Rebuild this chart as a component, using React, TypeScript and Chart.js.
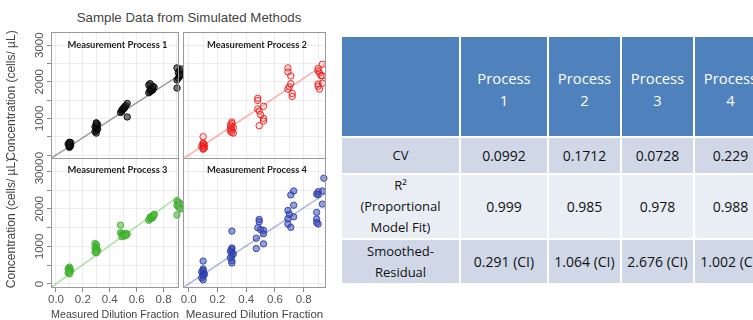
import React, { useEffect, useRef } from 'react';
import { Chart, registerables } from 'chart.js';

Chart.register(...registerables);
const FONT = '"Liberation Sans", Arial, sans-serif';
Chart.defaults.font.family = FONT;

// ---------- text ----------
const chartTitle = 'Sample Data from Simulated Methods';
const panelTitles = ['Measurement Process 1', 'Measurement Process 2', 'Measurement Process 3', 'Measurement Process 4'];
const yAxisTitle = 'Concentration (cells/ µL)';
const xAxisTitle = 'Measured Dilution Fraction';

// ---------- scatter data (dilution fraction, concentration) ----------
const p1X = [0.10, 0.10, 0.11, 0.10, 0.09, 0.10, 0.11, 0.10, 0.10, 0.10,
  0.30, 0.29, 0.30, 0.31, 0.30, 0.29, 0.30, 0.31, 0.30, 0.30,
  0.48, 0.49, 0.49, 0.50, 0.50, 0.51, 0.51, 0.52, 0.53, 0.53,
  0.69, 0.70, 0.71, 0.72, 0.70, 0.71, 0.73, 0.72, 0.69, 0.70,
  0.90, 0.91, 0.92, 0.93, 0.91, 0.92, 0.93, 0.90, 0.90, 0.92];
const p1Y = [210, 240, 260, 280, 300, 320, 340, 230, 270, 350,
  600, 640, 680, 710, 740, 770, 800, 830, 860, 880,
  1160, 1190, 1230, 1250, 1270, 1290, 1320, 1350, 1410, 1040,
  1700, 1730, 1760, 1780, 1800, 1820, 1850, 1880, 1910, 1950,
  2050, 2100, 2150, 2200, 2250, 2300, 2350, 2380, 1830, 2180];

const p2X = [0.10, 0.10, 0.10, 0.11, 0.10, 0.09, 0.10, 0.11, 0.10, 0.10,
  0.30, 0.30, 0.29, 0.30, 0.31, 0.29, 0.30, 0.29, 0.30, 0.31,
  0.48, 0.48, 0.52, 0.48, 0.49, 0.50, 0.52, 0.52, 0.49,
  0.69, 0.69, 0.71, 0.71, 0.70, 0.69, 0.72, 0.72,
  0.93, 0.90, 0.90, 0.91, 0.92, 0.93, 0.90, 0.90, 0.91, 0.93];
const p2Y = [500, 330, 300, 280, 260, 240, 220, 200, 180, 160,
  900, 860, 820, 780, 750, 720, 690, 650, 620, 600,
  1550, 1490, 1330, 1260, 1200, 1100, 1000, 930, 800,
  2380, 2270, 2160, 1950, 1860, 1800, 1680, 1600,
  2480, 2360, 2300, 2240, 2170, 2160, 1940, 1880, 1800, 1960];

const p3X = [0.10, 0.10, 0.09, 0.10, 0.11, 0.10, 0.10, 0.09, 0.10,
  0.29, 0.30, 0.30, 0.29, 0.30, 0.30, 0.31, 0.30, 0.29, 0.30,
  0.48, 0.48, 0.49, 0.50, 0.50, 0.51, 0.52, 0.53, 0.49, 0.52,
  0.69, 0.70, 0.71, 0.72, 0.70, 0.71, 0.72, 0.73, 0.73,
  0.90, 0.91, 0.92, 0.93, 0.90, 0.91, 0.92, 0.93, 0.90];
const p3Y = [450, 420, 400, 380, 360, 340, 320, 300, 270,
  1080, 1050, 1000, 970, 940, 910, 890, 870, 850, 830,
  1570, 1370, 1340, 1320, 1300, 1280, 1350, 1330, 1260, 1300,
  1700, 1730, 1750, 1770, 1780, 1800, 1820, 1840, 1860,
  2220, 2180, 2150, 2120, 2100, 2060, 2020, 2000, 1840];

const p4X = [0.10, 0.10, 0.10, 0.09, 0.10, 0.11, 0.10, 0.10, 0.09, 0.10,
  0.30, 0.30, 0.30, 0.29, 0.30, 0.31, 0.30, 0.29, 0.30, 0.30,
  0.49, 0.49, 0.48, 0.50, 0.52, 0.52, 0.47, 0.52, 0.47,
  0.73, 0.71, 0.73, 0.69, 0.70, 0.73, 0.69, 0.69, 0.71,
  0.94, 0.93, 0.90, 0.89, 0.90, 0.93, 0.89, 0.89, 0.89, 0.90];
const p4Y = [610, 400, 360, 320, 290, 260, 230, 200, 160, 110,
  1410, 960, 920, 880, 840, 800, 760, 700, 620, 560,
  1720, 1660, 1500, 1450, 1430, 1340, 1220, 1070, 945,
  2480, 2375, 2100, 1960, 1860, 1790, 1740, 1600, 1510,
  2820, 2480, 2460, 2400, 2380, 2130, 1910, 1730, 1640, 1600];

// proportional model fit (concentration per unit dilution fraction)
const fitSlopes = [2380, 2620, 2560, 2540];

// axis ticks: y tick marks every 500 (labels on the thousands), x ticks every 0.1 (labels every 0.2)
const yTickValues = [0, 500, 1000, 1500, 2000, 2500, 3000];
const yLabelValues = [0, 1000, 2000, 3000];
const xTickValues = [0, 0.1, 0.2, 0.3, 0.4, 0.5, 0.6, 0.7, 0.8, 0.9];
const xLabelValues = [0, 0.2, 0.4, 0.6, 0.8];

// ---------- table ----------
const tableHeaders = ['Process\n1', 'Process\n2', 'Process\n3', 'Process\n4'];
const rowLabels = ['CV', 'R²\n(Proportional\nModel Fit)', 'Smoothed-\nResidual'];
const cvValues = ['0.0992', '0.1712', '0.0728', '0.229'];
const r2Values = ['0.999', '0.985', '0.978', '0.988'];
const residualValues = ['0.291 (CI)', '1.064 (CI)', '2.676 (CI)', '1.002 (CI)'];

// ---------- styles ----------
const processXs = [p1X, p2X, p3X, p4X];
const processYs = [p1Y, p2Y, p3Y, p4Y];
const pointFills = ['rgba(30,30,30,0.6)', 'rgba(255,60,60,0.12)', 'rgba(80,190,60,0.6)', 'rgba(60,80,185,0.55)'];
const pointStrokes = ['rgba(0,0,0,0.85)', 'rgba(235,25,25,0.9)', 'rgba(60,170,45,0.85)', 'rgba(40,55,165,0.85)'];
const lineColors = ['rgba(0,0,0,0.38)', 'rgba(250,90,90,0.5)', 'rgba(110,200,90,0.55)', 'rgba(110,120,210,0.55)'];

const Y_MIN = -108;
const Y_MAX = 3360;

const near = (a: number, list: number[]) => list.some((b) => Math.abs(a - b) < 1e-6);

const framePlugin = {
  id: 'panelFrame',
  afterDatasetsDraw(chart: any) {
    const { ctx, chartArea: a } = chart;
    ctx.save();
    ctx.strokeStyle = '#9a9a9a';
    ctx.lineWidth = 1;
    const l = Math.round(a.left) + 0.5;
    const t = Math.round(a.top) + 0.5;
    const r = Math.round(a.right) - 0.5;
    const b = Math.round(a.bottom) - 0.5;
    ctx.strokeRect(l, t, r - l, b - t);
    ctx.restore();
  },
};

type PanelProps = {
  idx: number; left: number; top: number; width: number; height: number;
  pad: { left: number; top: number; right: number; bottom: number };
  showX: boolean; showY: boolean; xMin: number; xMax: number;
};

function Panel({ idx, left, top, width, height, pad, showX, showY, xMin, xMax }: PanelProps) {
  const ref = useRef<HTMLCanvasElement>(null);
  useEffect(() => {
    const xs = processXs[idx];
    const ys = processYs[idx];
    const pts = xs.map((x, i) => ({ x, y: ys[i] }));
    const slope = fitSlopes[idx];
    const fit = [{ x: xMin, y: slope * xMin }, { x: xMax, y: slope * xMax }];
    const chart = new Chart(ref.current as HTMLCanvasElement, {
      type: 'scatter',
      data: {
        datasets: [
          {
            data: pts,
            pointRadius: 3.2,
            pointBackgroundColor: pointFills[idx],
            pointBorderColor: pointStrokes[idx],
            pointBorderWidth: 1,
            order: 1,
            clip: false,
          } as any,
          {
            data: fit,
            showLine: true,
            pointRadius: 0,
            borderColor: lineColors[idx],
            borderWidth: 1.5,
            order: 2,
          } as any,
        ],
      },
      options: {
        animation: false,
        responsive: false,
        maintainAspectRatio: false,
        events: [],
        layout: { padding: pad },
        plugins: { legend: { display: false }, tooltip: { enabled: false } },
        scales: {
          x: {
            type: 'linear',
            min: xMin,
            max: xMax,
            afterBuildTicks: (s: any) => { s.ticks = xTickValues.map((v) => ({ value: v })); },
            ticks: {
              display: showX,
              autoSkip: false,
              maxRotation: 0,
              minRotation: 0,
              padding: 1,
              color: '#555',
              font: { size: 11.5 },
              callback: (v: any) => (near(Number(v), xLabelValues) ? Number(v).toFixed(1) : ''),
            },
            grid: {
              color: 'rgba(0,0,0,0.07)',
              drawTicks: showX,
              tickLength: 4,
              tickColor: (c: any) => (c.tick && near(c.tick.value, xLabelValues) ? '#8a8a8a' : 'rgba(0,0,0,0)'),
            },
            border: { display: false },
            title: {
              display: showX,
              text: xAxisTitle,
              color: '#444',
              font: { size: 11.5 },
              padding: { top: 0, bottom: -1.4 },
            },
            afterFit: (s: any) => { s.height = showX ? 32 : 0; },
          } as any,
          y: {
            type: 'linear',
            min: Y_MIN,
            max: Y_MAX,
            afterBuildTicks: (s: any) => { s.ticks = yTickValues.map((v) => ({ value: v })); },
            ticks: {
              display: showY,
              autoSkip: false,
              minRotation: 90,
              maxRotation: 90,
              crossAlign: 'center',
              padding: -6,
              color: '#555',
              font: { size: 11.5 },
              callback: (v: any) => (near(Number(v), yLabelValues) ? String(v) : ''),
            },
            grid: {
              color: 'rgba(0,0,0,0.07)',
              drawTicks: showY,
              tickLength: 4,
              tickColor: '#8a8a8a',
            },
            border: { display: false },
            title: {
              display: showY,
              text: yAxisTitle,
              color: '#444',
              font: { size: 12 },
              padding: { top: 4.8, bottom: 0 },
            },
            afterFit: (s: any) => { s.width = showY ? 51 : 0; },
          } as any,
        },
      },
      plugins: [framePlugin],
    });
    return () => chart.destroy();
  }, []);
  return (
    <canvas
      ref={ref}
      width={width}
      height={height}
      style={{ position: 'absolute', left, top, width, height }}
    />
  );
}

const stripStyle = (cx: number, cy: number): React.CSSProperties => ({
  position: 'absolute',
  left: cx - 70,
  top: cy - 7,
  width: 140,
  height: 14,
  lineHeight: '14px',
  textAlign: 'center',
  fontFamily: 'Lato, "Open Sans", sans-serif',
  fontWeight: 700,
  fontSize: 9.4,
  color: '#222',
  whiteSpace: 'nowrap',
});

const cellBase: React.CSSProperties = {
  display: 'flex',
  alignItems: 'center',
  justifyContent: 'center',
  textAlign: 'center',
  whiteSpace: 'pre-line',
  color: '#111',
  fontSize: 13,
  lineHeight: '21px',
};

export default function App() {
  const rowColors = ['#D0D8E8', '#E9EDF4', '#D0D8E8'];
  const bodyRows = [cvValues, r2Values, residualValues];
  return (
    <div
      style={{
        position: 'absolute', left: 0, top: 0, width: 753, height: 320,
        overflow: 'hidden', background: '#fff',
        fontFamily: FONT,
      }}
    >
      <div style={{ position: 'absolute', left: 0, top: 9, width: 378, textAlign: 'center', fontSize: 13.3, lineHeight: '18px', color: '#444', whiteSpace: 'nowrap' }}>
        {chartTitle}
      </div>

      <Panel idx={0} left={0} top={22} width={184} height={147} pad={{ left: 0, top: 10, right: 0, bottom: 10 }} showX={false} showY={true} xMin={-0.037} xMax={0.915} />
      <Panel idx={1} left={173} top={22} width={158} height={147} pad={{ left: 10, top: 10, right: 0, bottom: 10 }} showX={false} showY={false} xMin={-0.04} xMax={0.955} />
      <Panel idx={2} left={0} top={148} width={184} height={172} pad={{ left: 0, top: 10, right: 0, bottom: 0 }} showX={true} showY={true} xMin={-0.037} xMax={0.915} />
      <Panel idx={3} left={173} top={148} width={158} height={172} pad={{ left: 10, top: 10, right: 0, bottom: 0 }} showX={true} showY={false} xMin={-0.04} xMax={0.955} />

      <div style={stripStyle(117.5, 44.5)}>{panelTitles[0]}</div>
      <div style={stripStyle(257, 44.5)}>{panelTitles[1]}</div>
      <div style={stripStyle(117.5, 170)}>{panelTitles[2]}</div>
      <div style={stripStyle(257, 170)}>{panelTitles[3]}</div>

      <div
        style={{
          position: 'absolute', left: 342, top: 37,
          display: 'grid',
          gridTemplateColumns: '117px 86px 71px 71px 71px',
          gridTemplateRows: '99px 35px 63px 43px',
          columnGap: 2, rowGap: 2,
          fontFamily: '"Open Sans", sans-serif',
        }}
      >
        <div style={{ background: '#4F81BD' }} />
        {tableHeaders.map((h, i) => (
          <div key={'h' + i} style={{ ...cellBase, background: '#4F81BD', color: '#fff', fontSize: 14.8, lineHeight: '22px', paddingTop: 4 }}>{h}</div>
        ))}
        {bodyRows.map((vals, r) => (
          <React.Fragment key={'r' + r}>
            <div style={{ ...cellBase, background: rowColors[r] }}>{rowLabels[r]}</div>
            {vals.map((v, c) => (
              <div key={'c' + r + c} style={{ ...cellBase, background: rowColors[r], whiteSpace: 'nowrap', fontSize: 14 }}>{v}</div>
            ))}
          </React.Fragment>
        ))}
      </div>
    </div>
  );
}
